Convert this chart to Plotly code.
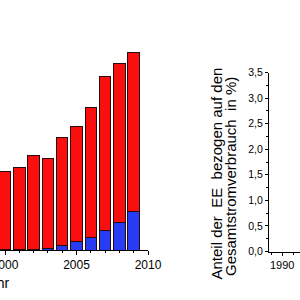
import plotly.graph_objects as go

# ---- data ----
years = [2000, 2001, 2002, 2003, 2004, 2005, 2006, 2007, 2008, 2009]
total = [37.6, 39.4, 45.6, 44.0, 53.9, 59.2, 68.2, 83.5, 89.3, 94.7]
blue_part = [0.2, 0.3, 0.4, 0.5, 2.4, 4.0, 5.9, 9.3, 13.1, 18.7]
red_part = [t - b for t, b in zip(total, blue_part)]

share_years = []
share_values = []

W, H = 300, 300
def px(x):
    return x / W
def py(y):
    return 1 - y / H

FONT = "Arial, Liberation Sans, sans-serif"

fig = go.Figure()
fig.add_trace(go.Bar(x=years, y=blue_part, marker=dict(color="rgb(40,60,245)",
                     line=dict(color="rgb(40,10,10)", width=1)), xaxis="x", yaxis="y"))
fig.add_trace(go.Bar(x=years, y=red_part, marker=dict(color="rgb(250,15,15)",
                     line=dict(color="rgb(40,10,10)", width=1)), xaxis="x", yaxis="y"))
fig.add_trace(go.Scatter(x=share_years, y=share_values, mode="lines",
                         line=dict(color="black"), xaxis="x2", yaxis="y2"))

fig.update_layout(
    width=W, height=H, margin=dict(l=0, r=0, t=0, b=0),
    paper_bgcolor="white", plot_bgcolor="white",
    barmode="stack", bargap=0.2, showlegend=False,
    separators=",.",
    font=dict(family=FONT, color="black"),
    xaxis=dict(domain=[0, px(148)], range=[1999.65, 2010], anchor="y",
               showline=True, linecolor="black", linewidth=1,
               ticks="outside", ticklen=4, tickcolor="black", tickwidth=1,
               tickvals=[2000, 2005, 2010], ticktext=["2000", "2005", "2010"],
               tickfont=dict(size=12), showgrid=False, zeroline=False,
               ticklabeloverflow="allow",
               minor=dict(dtick=1, tick0=2000, ticks="outside", ticklen=2, tickcolor="black"),
               automargin=False),
    yaxis=dict(domain=[py(250), 1], range=[0, 120], visible=False),
    xaxis2=dict(domain=[px(269), 1], range=[1988.8, 1991.62], anchor="y2",
                showline=True, linecolor="black", linewidth=1,
                ticks="outside", ticklen=3, tickcolor="black",
                tickvals=[1990], ticktext=["1990"], tickfont=dict(size=11),
                ticklabeloverflow="allow",
                minor=dict(dtick=1, tick0=1990, ticks="outside", ticklen=2, tickcolor="black"),
                showgrid=False, zeroline=False, automargin=False),
    yaxis2=dict(domain=[py(251.5), py(72.5)], range=[0, 3.5], anchor="x2",
                showline=True, linecolor="black", linewidth=1,
                ticks="outside", ticklen=3, tickcolor="black",
                dtick=0.5, tick0=0, tickformat=".1f", tickfont=dict(size=10.5),
                minor=dict(dtick=0.25, ticks="outside", ticklen=2, tickcolor="black"),
                showgrid=False, zeroline=False, automargin=False),
    annotations=[
        dict(text="Jahr", x=px(12), y=py(283), xref="paper", yref="paper",
             xanchor="right", yanchor="middle", showarrow=False,
             font=dict(size=14, family=FONT)),
        dict(text="Anteil der\u00a0 EE\u00a0 bezogen auf den",
             x=px(215.5), y=py(174), xref="paper", yref="paper",
             xanchor="center", yanchor="middle", textangle=-90, showarrow=False,
             font=dict(size=15, family=FONT)),
        dict(text="Gesamtstromverbrauch\u00a0 in %)",
             x=px(230), y=py(177), xref="paper", yref="paper",
             xanchor="center", yanchor="middle", textangle=-90, showarrow=False,
             font=dict(size=15, family=FONT)),
    ],
)

fig.write_html("out.html")
